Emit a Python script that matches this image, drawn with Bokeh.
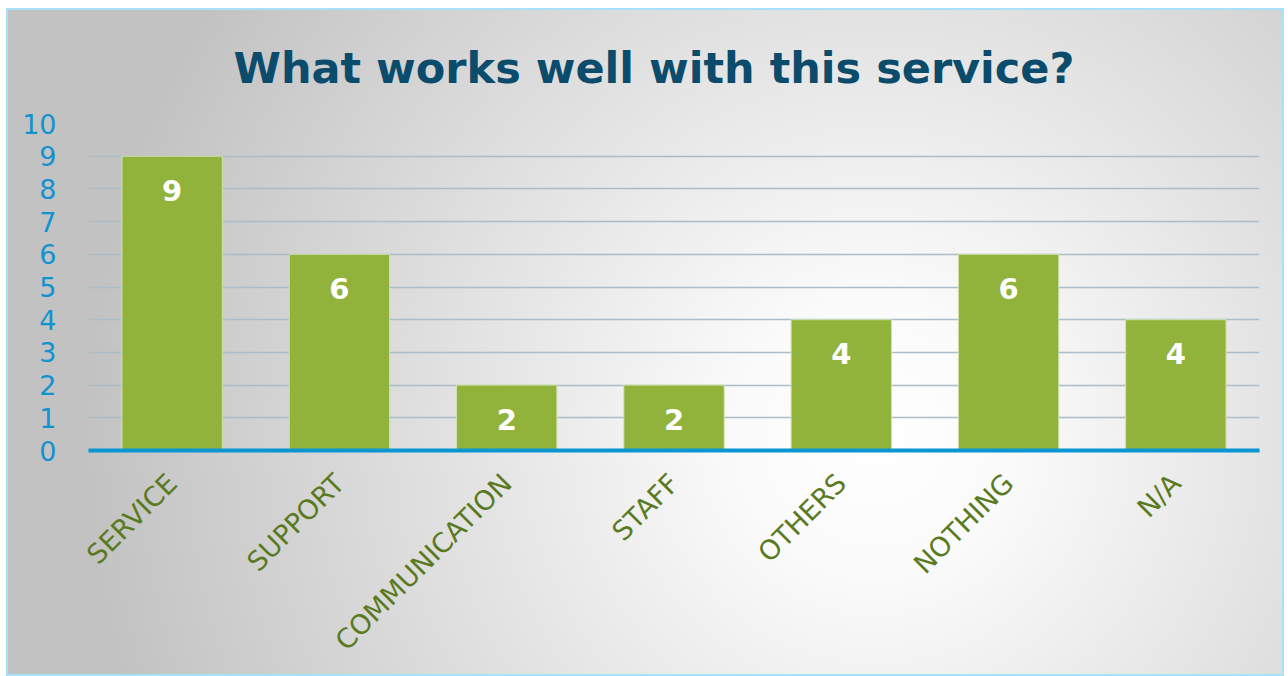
import math
from bokeh.plotting import figure
from bokeh.models import ColumnDataSource, Range1d, FixedTicker
from bokeh.core.properties import value
from bokeh.embed import file_html
from bokeh.resources import INLINE

categories = ["SERVICE", "SUPPORT", "COMMUNICATION", "STAFF", "OTHERS", "NOTHING", "N/A"]
counts = [9, 6, 2, 2, 4, 6, 4]
y_ticks = list(range(0, 11))
title_text = "What works well with this service?"

src = ColumnDataSource(dict(cat=categories, val=counts, lab=[str(v) for v in counts]))

p = figure(
    x_range=categories,
    y_range=Range1d(0, 10),
    width=1278,
    height=668,
    output_backend="svg",
    toolbar_location=None,
    title=title_text,
    min_border_left=82,
    min_border_right=25,
    min_border_top=115,
    min_border_bottom=226,
)

p.styles = {
    "margin-left": "6px",
    "margin-top": "8px",
    "background": "radial-gradient(ellipse 62% 120% at 68% 64%, #ffffff 0%, #fafafa 18%, #c2c2c2 100%)",
    "box-shadow": "inset 0 0 0 2px #a6e2fb",
}
p.background_fill_alpha = 0
p.border_fill_alpha = 0
p.outline_line_color = None

p.title.text_font = "DejaVu Sans"
p.title.text_font_style = "bold"
p.title.text_font_size = "43px"
p.title.text_color = "#0b4b6b"
p.title.align = "left"
p.title.offset = 145
p.title.standoff = 62

p.vbar(x="cat", top="val", width=0.6, source=src,
       fill_color="#91b33b", line_color="#d3e2b0", line_width=1)

p.text(x="cat", y="val", text="lab", source=src,
       text_font=value("DejaVu Sans"), text_font_style="bold",
       text_font_size="29px", text_color="white",
       text_align="center", text_baseline="middle", y_offset=34)

p.xgrid.grid_line_color = None
p.ygrid.ticker = FixedTicker(ticks=y_ticks)
p.ygrid.grid_line_color = "#aabdc8"
p.ygrid.grid_line_width = 1.5

p.yaxis.ticker = FixedTicker(ticks=y_ticks)
p.yaxis.axis_line_color = None
p.yaxis.major_tick_line_color = None
p.yaxis.minor_tick_line_color = None
p.yaxis.major_label_text_font = "DejaVu Sans"
p.yaxis.major_label_text_font_size = "27px"
p.yaxis.major_label_text_color = "#1193d0"
p.yaxis.major_label_standoff = 26

p.xaxis.axis_line_color = "#0a96d2"
p.xaxis.axis_line_width = 4
p.xaxis.major_tick_line_color = None
p.xaxis.minor_tick_line_color = None
p.xaxis.major_label_orientation = math.pi / 4
p.xaxis.major_label_text_font = "DejaVu Sans"
p.xaxis.major_label_text_font_size = "27px"
p.xaxis.major_label_text_color = "#5a7a1f"
p.xaxis.major_label_standoff = 22

open("out.html", "w").write(file_html(p, INLINE))
